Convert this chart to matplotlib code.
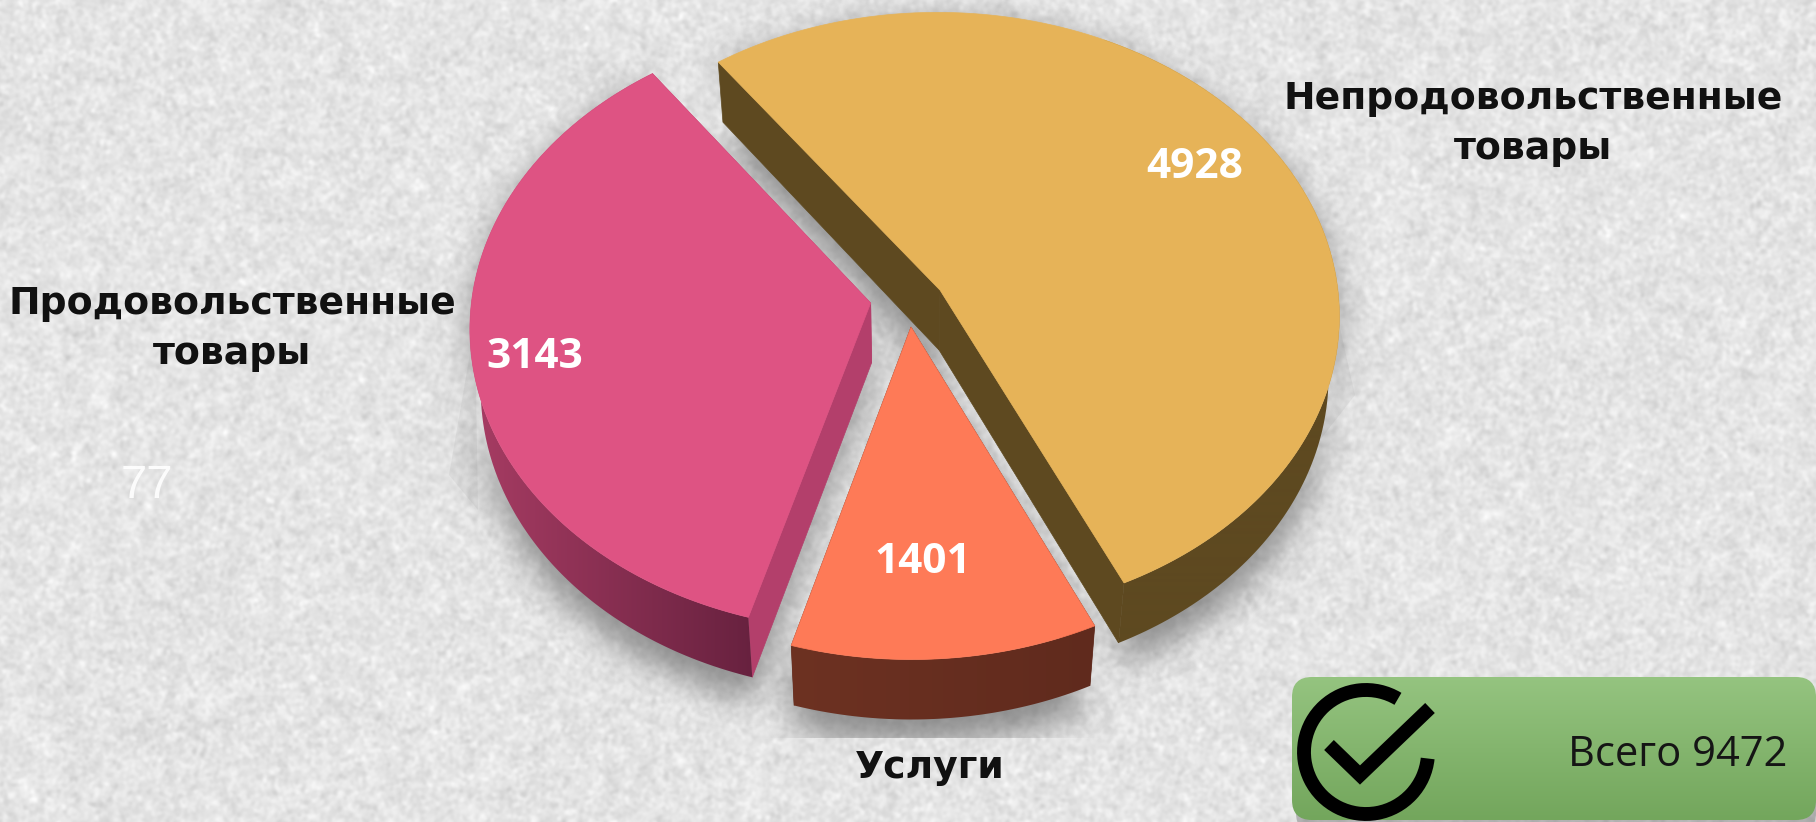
import numpy as np
import matplotlib
matplotlib.use("Agg")
import matplotlib.pyplot as plt
from matplotlib.colors import LinearSegmentedColormap
from matplotlib.patches import Polygon, FancyBboxPatch, Arc
from matplotlib.path import Path

# data
categories = ["Непродовольственные\nтовары", "Услуги", "Продовольственные\nтовары"]
values = [4928, 1401, 3143]
total_label = "Всего 9472"
stray_label = "77"

# slice styles, same order as values
top_colors = ["#E6B358", "#FE7A57", "#DE5383"]
wall_left = ["#5E4920", "#6E3222", "#AC3E66"]
wall_right = ["#5E4920", "#5F2A1D", "#64203D"]
side_colors = ["#5E4920", "#5F2A1D", "#B33F6B"]
explode = [(0.088, 0.066), (0.015, -0.056), (-0.086, 0.023)]

W, H = 1816, 822
cx, cy = 905, 310
rx, ry, persp = 400, 303, 0.08
depth = 60
base_inset = 0.975
start_angle = 125


def warp(t):
    # the 3d view of the original squeezes the front of the pie
    r = np.radians(t)
    return t - 13.5 * np.cos(r) - 6.07 * np.sin(r) - 1.79


def project(x, y):
    w = 1 + persp * y
    return cx + rx * x / w, cy - ry * y / w


def lower(x, y):
    # same point on the bottom face of the pie
    return cx + (x - cx) * base_inset, y + depth


def gradient_image(ax, extent, c0, c1, horizontal, clip, zorder):
    cmap = LinearSegmentedColormap.from_list("g", [c0, c1])
    g = np.linspace(0, 1, 256)
    g = g.reshape(1, -1) if horizontal else g.reshape(-1, 1)
    im = ax.imshow(g, extent=extent, cmap=cmap, aspect="auto", zorder=zorder, vmin=0, vmax=1,
                   origin="upper")
    im.set_clip_path(clip)


def blur(a, sigma):
    fy = np.fft.fftfreq(a.shape[0])[:, None]
    fx = np.fft.rfftfreq(a.shape[1])[None, :]
    k = np.exp(-2 * (np.pi * sigma) ** 2 * (fx ** 2 + fy ** 2))
    return np.fft.irfft2(np.fft.rfft2(a) * k, s=a.shape)


fig = plt.figure(figsize=(W / 100, H / 100), dpi=100)
ax = fig.add_axes([0, 0, 1, 1])
ax.axis("off")

# paper texture of the slide background, not chart data
rng = np.random.default_rng(5)
tex = 0.7 * blur(rng.normal(size=(H, W)), 1.8) * 3.6 + 0.3 * blur(rng.normal(size=(H, W)), 5) * 10
tex = np.clip(0.895 + 0.05 * tex, 0.76, 0.99)
ax.imshow(tex, cmap="gray", vmin=0, vmax=1, extent=(0, W, H, 0), aspect="auto", zorder=0)

# slices
fractions = np.array(values) / sum(values)
edges = start_angle - 360 * np.concatenate([[0], np.cumsum(fractions)])
outlines = []
for i in range(len(values)):
    t = np.radians(warp(np.linspace(edges[i], edges[i + 1], 160)))
    ox, oy = explode[i]
    ap_x, ap_y = project(np.array([ox]), np.array([oy]))
    rim_x, rim_y = project(ox + np.cos(t), oy + np.sin(t))
    outlines.append((ap_x[0], ap_y[0], rim_x, rim_y))

# soft shadow under the pie, falls below and between the slices
yy, xx = np.mgrid[0:H, 0:W]
grid = np.column_stack([xx.ravel() + 0.5, yy.ravel() + 0.5])
mask = np.zeros((H, W))
for ap_x, ap_y, rim_x, rim_y in outlines:
    low_x, low_y = lower(rim_x, rim_y)
    px = np.r_[ap_x, rim_x, low_x[::-1], ap_x]
    py = np.r_[ap_y + 10, rim_y + 10, low_y[::-1] + 24, ap_y + depth + 24]
    inside = Path(np.column_stack([px, py])).contains_points(grid).reshape(H, W)
    mask = np.maximum(mask, inside)
shadow = np.clip(blur(mask, 16) * 0.72, 0, 1)
shadow[738:, :] = 0
rgba = np.zeros((H, W, 4))
rgba[..., :3] = 0.42
rgba[..., 3] = shadow
ax.imshow(rgba, extent=(0, W, H, 0), aspect="auto", zorder=1)
ax.add_patch(Polygon([(475, 325), (449, 475), (478, 510)], fc="#777777", ec="none", alpha=0.1, zorder=1))
ax.add_patch(Polygon([(1337, 315), (1355, 395), (1320, 440)], fc="#777777", ec="none", alpha=0.1, zorder=1))

for i, (ap_x, ap_y, rim_x, rim_y) in enumerate(outlines):
    low_x, low_y = lower(rim_x, rim_y)
    # cut faces
    for ex, ey in [(rim_x[0], rim_y[0]), (rim_x[-1], rim_y[-1])]:
        lex, ley = lower(ex, ey)
        lax, lay = lower(ap_x, ap_y)
        ax.add_patch(Polygon([(ap_x, ap_y), (ex, ey), (lex, ley), (lax, lay)],
                             fc=side_colors[i], ec=side_colors[i], lw=0.5, zorder=2))
    # outer wall
    wall = Polygon(np.column_stack([np.r_[rim_x, low_x[::-1]], np.r_[rim_y, low_y[::-1]]]),
                   transform=ax.transData, fc="none", ec="none")
    ax.add_patch(wall)
    visible = rim_y > cy
    gradient_image(ax, (rim_x[visible].min() - 20, rim_x[visible].max() + 20, H, 0),
                   wall_left[i], wall_right[i], True, wall, 3)
    # top face
    ax.add_patch(Polygon(np.column_stack([np.r_[ap_x, rim_x], np.r_[ap_y, rim_y]]),
                         fc=top_colors[i], ec=top_colors[i], lw=0.5, zorder=4))

# category labels
label_font = {"family": "DejaVu Sans", "weight": "bold", "size": 27.2, "color": "#111111",
              "ha": "center", "va": "center", "linespacing": 1.5, "zorder": 6}
ax.text(1533, 124, categories[0], **label_font)
ax.text(930, 768, categories[1], **label_font)
ax.text(232, 329, categories[2], **label_font)

# value labels
value_font = {"family": "Open Sans", "weight": "bold", "size": 30.5, "color": "white",
              "ha": "center", "va": "center", "zorder": 6}
ax.text(1195, 167, str(values[0]), **value_font)
ax.text(923, 562, str(values[1]), **value_font)
ax.text(535, 357, str(values[2]), **value_font)

ax.text(147, 486, stray_label, family="Liberation Sans", size=34, color="white",
        ha="center", va="center", alpha=0.9, zorder=6)

# green total box with icon
box_shadow = FancyBboxPatch((1296, 683), 520, 150, boxstyle="round,pad=0,rounding_size=20",
                            fc="#555555", ec="none", alpha=0.35, zorder=5)
ax.add_patch(box_shadow)
box = FancyBboxPatch((1292, 677), 524, 143, boxstyle="round,pad=0,rounding_size=20",
                     fc="none", ec="none", zorder=6)
ax.add_patch(box)
gradient_image(ax, (1292, 1816, 820, 677), "#95C480", "#73A65C", False, box, 6)

ax.add_patch(Arc((1366, 752), 124, 124, theta1=6, theta2=301, lw=10, color="black",
                 capstyle="butt", zorder=7))
ax.plot([1329, 1360, 1430], [745, 775, 708], color="black", lw=10,
        solid_joinstyle="miter", solid_capstyle="butt", zorder=7)
ax.text(1678, 755, total_label, family="Open Sans", size=30, color="#151515",
        ha="center", va="center", zorder=7)

ax.set_xlim(0, W)
ax.set_ylim(H, 0)
fig.savefig("out.png", dpi=100)
